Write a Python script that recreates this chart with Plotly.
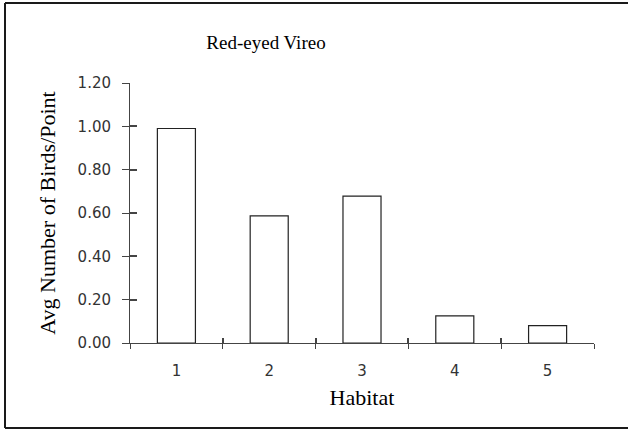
import plotly.graph_objects as go

habitats = ['1', '2', '3', '4', '5']
avg_birds = [0.99, 0.587, 0.678, 0.125, 0.08]
y_ticks = [0.0, 0.2, 0.4, 0.6, 0.8, 1.0, 1.2]

serif = 'Liberation Serif, Times New Roman, serif'
sans = 'DejaVu Sans, Verdana, sans-serif'
axis_col = '#444444'

layout = go.Layout(
    width=628, height=431,
    margin=dict(l=130, r=34, t=83, b=88),
    paper_bgcolor='white', plot_bgcolor='white',
    showlegend=False,
    bargap=0.59,
    title=dict(text='Red-eyed Vireo', x=266 / 628, xanchor='center',
               y=1 - 42 / 431, yanchor='middle',
               font=dict(family=serif, size=19, color='black')),
    xaxis=dict(type='category', tickson='boundaries', ticks='outside',
               ticklen=5, tickwidth=1, tickcolor=axis_col,
               showline=True, linecolor=axis_col, linewidth=1,
               showgrid=False, zeroline=False, ticklabelstandoff=14,
               tickfont=dict(family=sans, size=15, color='#333333'),
               title=dict(text='Habitat', standoff=10,
                          font=dict(family=serif, size=22, color='black'))),
    yaxis=dict(range=[0, 1.2], tickvals=y_ticks, tickformat='.2f',
               ticks='outside', ticklen=7, tickwidth=1, tickcolor=axis_col,
               showline=True, linecolor=axis_col, linewidth=1,
               showgrid=False, zeroline=False, ticklabelstandoff=8,
               tickfont=dict(family=sans, size=15, color='#333333'),
               title=dict(text='Avg Number of Birds/Point', standoff=15,
                          font=dict(family=serif, size=22, color='black'))),
    # overlay axes so the tick marks cross the axis lines
    xaxis2=dict(overlaying='x', anchor='y2', range=[0.5, 5.5],
                tickvals=[0.5, 1.5, 2.5, 3.5, 4.5, 5.5],
                ticks='inside', ticklen=5, tickwidth=1.5, tickcolor=axis_col,
                showticklabels=False, showgrid=False, zeroline=False,
                showline=False),
    yaxis2=dict(overlaying='y', anchor='x2', side='left', range=[0, 1.2],
                tickvals=y_ticks,
                ticks='inside', ticklen=7, tickwidth=1.5, tickcolor=axis_col,
                showticklabels=False, showgrid=False, zeroline=False,
                showline=False),
)

fig = go.Figure(layout=layout)

fig.add_trace(go.Bar(x=habitats, y=avg_birds,
                     marker=dict(color='white',
                                 line=dict(color='#222222', width=1.2)),
                     hoverinfo='x+y'))

# invisible trace so the overlay axes are drawn
fig.add_trace(go.Scatter(x=[1, 5], y=[0, 0], xaxis='x2', yaxis='y2',
                         mode='markers', marker=dict(opacity=0),
                         hoverinfo='skip'))

# outer frame of the chart: top, left and bottom edges only
fx0, fx1 = (5 - 130) / 464, (628 - 130) / 464
fy0, fy1 = (343 - 428) / 260, (343 - 3) / 260
frame = dict(type='line', xref='paper', yref='paper',
             line=dict(color='#1a1a1a', width=2))
fig.add_shape(x0=fx0, x1=fx1, y0=fy1, y1=fy1, **frame)
fig.add_shape(x0=fx0, x1=fx0, y0=fy0, y1=fy1, **frame)
fig.add_shape(x0=fx0, x1=fx1, y0=fy0, y1=fy0, **frame)

# drop the default page margin so the figure sits at the window corner
fig.write_html('out.html', config={'displayModeBar': False},
               post_script="document.body.style.margin='0';")
